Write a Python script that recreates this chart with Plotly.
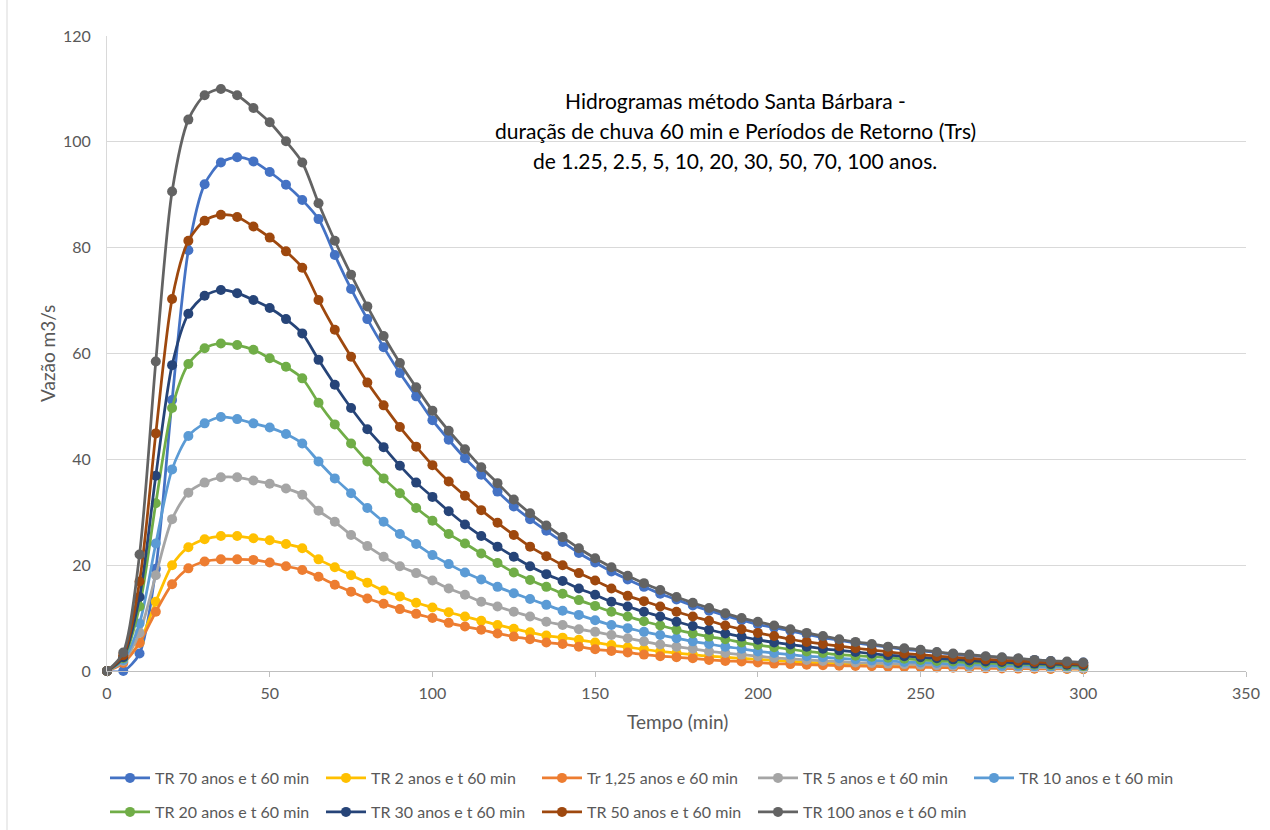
import plotly.graph_objects as go

# Tempo (min), passo de 5 min
tempo = [0, 5, 10, 15, 20, 25, 30, 35, 40, 45, 50, 55, 60, 65, 70, 75, 80, 85, 90, 95,
         100, 105, 110, 115, 120, 125, 130, 135, 140, 145, 150, 155, 160, 165, 170, 175,
         180, 185, 190, 195, 200, 205, 210, 215, 220, 225, 230, 235, 240, 245, 250, 255,
         260, 265, 270, 275, 280, 285, 290, 295, 300]

# Vazões (m3/s) por período de retorno, chuva de 60 min
q_tr70 = [0, 0, 3.3, 19.3, 51.2, 79.5, 92.0, 96.1, 97.1, 96.3, 94.3, 91.9, 89.0, 85.4, 78.6,
          72.2, 66.5, 61.2, 56.3, 51.9, 47.4, 43.7, 40.2, 37.1, 33.9, 31.1, 28.7, 26.5, 24.4,
          22.3, 20.5, 18.8, 17.3, 15.9, 14.6, 13.5, 12.4, 11.4, 10.5, 9.6, 8.8, 8.2, 7.6, 6.9,
          6.3, 5.8, 5.3, 4.9, 4.5, 4.1, 3.8, 3.5, 3.2, 2.9, 2.7, 2.5, 2.3, 2.1, 1.9, 1.7, 1.6]
q_tr2 = [0, 1.7, 5.4, 13.1, 20.0, 23.4, 24.9, 25.5, 25.5, 25.1, 24.7, 24.0, 23.2, 21.1, 19.6,
         18.1, 16.7, 15.2, 14.1, 12.9, 12.0, 11.1, 10.3, 9.5, 8.7, 8.0, 7.3, 6.7, 6.3, 5.9,
         5.4, 4.9, 4.5, 4.1, 3.7, 3.4, 3.1, 2.8, 2.6, 2.4, 2.2, 2.0, 1.8, 1.65, 1.5, 1.4, 1.3,
         1.2, 1.1, 1.0, 0.9, 0.85, 0.8, 0.7, 0.65, 0.6, 0.55, 0.5, 0.45, 0.42, 0.4]
q_tr125 = [0, 1.5, 5.3, 11.2, 16.4, 19.4, 20.7, 21.1, 21.1, 21.0, 20.5, 19.8, 19.1, 17.8, 16.3,
           15.0, 13.7, 12.7, 11.7, 10.8, 10.0, 9.1, 8.4, 7.8, 7.1, 6.5, 6.0, 5.4, 5.1, 4.6,
           4.1, 3.8, 3.5, 3.1, 2.8, 2.6, 2.4, 2.1, 1.9, 1.8, 1.6, 1.4, 1.3, 1.2, 1.1, 1.0, 0.95,
           0.9, 0.8, 0.75, 0.7, 0.65, 0.6, 0.55, 0.5, 0.48, 0.45, 0.42, 0.4, 0.38, 0.35]
q_tr5 = [0, 1.9, 7.2, 18.1, 28.7, 33.7, 35.6, 36.6, 36.6, 36.0, 35.4, 34.5, 33.3, 30.3, 28.2,
         25.7, 23.6, 21.6, 19.8, 18.5, 17.1, 15.6, 14.4, 13.1, 12.2, 11.2, 10.3, 9.3, 8.7, 7.9,
         7.4, 6.8, 6.2, 5.6, 5.0, 4.6, 4.2, 3.7, 3.4, 3.1, 2.8, 2.5, 2.3, 2.1, 1.9, 1.8, 1.6,
         1.5, 1.4, 1.3, 1.2, 1.1, 1.0, 0.9, 0.85, 0.8, 0.7, 0.65, 0.6, 0.55, 0.5]
q_tr10 = [0, 2.1, 9.0, 24.1, 38.1, 44.4, 46.8, 48.0, 47.6, 46.8, 46.0, 44.8, 43.0, 39.6, 36.4,
          33.6, 30.8, 28.2, 25.9, 24.0, 21.9, 20.2, 18.6, 17.3, 15.9, 14.7, 13.6, 12.5, 11.4,
          10.6, 9.6, 8.7, 8.1, 7.4, 6.8, 6.2, 5.6, 5.1, 4.6, 4.2, 3.7, 3.4, 3.1, 2.8, 2.6, 2.4,
          2.2, 2.0, 1.9, 1.7, 1.6, 1.5, 1.3, 1.2, 1.1, 1.0, 1.0, 0.9, 0.8, 0.7, 0.7]
q_tr20 = [0, 2.4, 12.2, 31.7, 49.7, 58.0, 61.0, 61.9, 61.6, 60.7, 59.1, 57.5, 55.3, 50.7, 46.6,
          43.0, 39.6, 36.4, 33.6, 30.8, 28.4, 25.9, 24.1, 22.2, 20.4, 18.6, 17.2, 15.9, 14.6,
          13.4, 12.3, 11.2, 10.3, 9.4, 8.6, 7.8, 7.1, 6.5, 6.0, 5.4, 4.9, 4.5, 4.1, 3.7, 3.4,
          3.1, 2.9, 2.7, 2.5, 2.3, 2.1, 1.9, 1.8, 1.6, 1.5, 1.4, 1.3, 1.2, 1.1, 1.0, 0.9]
q_tr30 = [0, 2.6, 14.0, 36.9, 57.8, 67.5, 70.9, 72.0, 71.4, 70.1, 68.6, 66.5, 63.8, 58.8, 54.1,
          49.7, 45.7, 42.3, 38.8, 35.6, 32.9, 30.2, 27.7, 25.5, 23.5, 21.6, 19.8, 18.3, 17.0,
          15.6, 14.4, 13.1, 12.2, 11.2, 10.3, 9.3, 8.5, 7.8, 7.1, 6.5, 5.9, 5.4, 5.0, 4.6, 4.2,
          3.9, 3.6, 3.3, 3.0, 2.8, 2.6, 2.4, 2.2, 2.0, 1.8, 1.7, 1.5, 1.4, 1.3, 1.2, 1.1]
q_tr50 = [0, 3.0, 16.9, 44.9, 70.3, 81.3, 85.1, 86.2, 85.8, 84.0, 81.9, 79.3, 76.2, 70.1, 64.5,
          59.4, 54.5, 50.2, 46.1, 42.4, 38.9, 35.8, 33.1, 30.4, 28.0, 25.7, 23.5, 21.7, 20.0,
          18.5, 17.1, 15.6, 14.2, 13.2, 12.2, 11.2, 10.3, 9.5, 8.6, 7.9, 7.2, 6.6, 6.0, 5.5,
          5.1, 4.7, 4.3, 4.0, 3.6, 3.3, 3.1, 2.8, 2.6, 2.4, 2.2, 2.0, 1.9, 1.7, 1.6, 1.4, 1.3]
q_tr100 = [0, 3.5, 22.0, 58.5, 90.6, 104.2, 108.8, 110.0, 108.8, 106.4, 103.7, 100.1, 96.1,
           88.4, 81.3, 74.9, 68.9, 63.3, 58.2, 53.6, 49.2, 45.4, 41.9, 38.5, 35.5, 32.4, 29.8,
           27.5, 25.3, 23.2, 21.3, 19.6, 18.0, 16.6, 15.3, 14.0, 12.9, 11.9, 10.9, 10.0, 9.3,
           8.6, 7.9, 7.2, 6.6, 6.0, 5.5, 5.1, 4.6, 4.3, 4.0, 3.6, 3.3, 3.1, 2.8, 2.6, 2.4, 2.1,
           1.9, 1.8, 1.6]

nomes = ["TR 70 anos e t 60 min", "TR 2 anos e t 60 min", "Tr 1,25 anos e 60 min",
         "TR 5 anos e t 60 min", "TR 10 anos e t 60 min", "TR 20 anos e t 60 min",
         "TR 30 anos e t 60 min", "TR 50 anos e t 60 min", "TR 100 anos e t 60 min"]
series = [q_tr70, q_tr2, q_tr125, q_tr5, q_tr10, q_tr20, q_tr30, q_tr50, q_tr100]
cores = ["#4472C4", "#FFC000", "#ED7D31", "#A5A5A5", "#5B9BD5",
         "#70AD47", "#264478", "#9E480E", "#636363"]

FONTE = "Lato, 'Liberation Sans', sans-serif"
CINZA = "#595959"

W, H = 1270, 830
L, R, T, B = 107, 24, 36, 159
pw, ph = W - L - R, H - T - B


def px_x(x):
    return (x - L) / pw


def px_y(y):
    return (H - B - y) / ph


fig = go.Figure()

# posições das entradas da legenda (duas linhas, colunas regulares), em pixels
col_x = [110, 326, 542, 758, 974]
lin_y = [778, 812]

for i, (nome, q, cor) in enumerate(zip(nomes, series, cores)):
    leg = "legend" if i == 0 else f"legend{i + 1}"
    fig.add_trace(go.Scatter(
        x=tempo, y=q, name=nome, mode="lines+markers",
        line=dict(color=cor, width=2.75, shape="spline", smoothing=0.8),
        marker=dict(color=cor, size=10, symbol="circle"),
        cliponaxis=False, legend=leg,
    ))

legend_cfg = {}
for i in range(len(nomes)):
    key = "legend" if i == 0 else f"legend{i + 1}"
    row, col = divmod(i, 5)
    legend_cfg[key] = dict(
        xref="container", yref="container",
        x=(col_x[col] - 5) / W, y=1 - lin_y[row] / H,
        xanchor="left", yanchor="middle",
        orientation="h", bgcolor="rgba(0,0,0,0)",
        font=dict(family=FONTE, size=16, color=CINZA),
        itemwidth=40, borderwidth=0,
    )

fig.update_layout(
    width=W, height=H,
    margin=dict(l=L, r=R, t=T, b=B, pad=0, autoexpand=False),
    paper_bgcolor="white", plot_bgcolor="white",
    font=dict(family=FONTE, color=CINZA),
    showlegend=True,
    xaxis=dict(
        range=[0, 350], tickvals=[0, 50, 100, 150, 200, 250, 300, 350],
        showgrid=False, zeroline=False,
        showline=True, linecolor="#BFBFBF", linewidth=1,
        ticks="outside", ticklen=5, tickcolor="#BFBFBF",
        tickfont=dict(family=FONTE, size=16, color=CINZA),
        ticklabelstandoff=3, automargin=False,
    ),
    yaxis=dict(
        range=[0, 120], tickvals=[0, 20, 40, 60, 80, 100, 120],
        showgrid=True, gridcolor="#D9D9D9", gridwidth=1, zeroline=False,
        showline=True, linecolor="#D9D9D9", linewidth=1,
        ticks="", tickfont=dict(family=FONTE, size=16, color=CINZA),
        ticklabelstandoff=12, automargin=False,
    ),
    **legend_cfg,
)

# título em três linhas
titulo = ["Hidrogramas método Santa Bárbara -",
          "duraçãs de chuva 60 min e Períodos de Retorno (Trs)",
          "de 1.25, 2.5, 5, 10, 20, 30, 50, 70, 100 anos."]
for linha, ypx in zip(titulo, [100, 130, 160]):
    fig.add_annotation(
        x=px_x(735), y=px_y(ypx), xref="paper", yref="paper",
        text=linha, showarrow=False, xanchor="center", yanchor="middle",
        font=dict(family=FONTE, size=21, color="black"),
    )

# títulos dos eixos
fig.add_annotation(
    x=px_x(677), y=px_y(721), xref="paper", yref="paper",
    text="Tempo (min)", showarrow=False, xanchor="center", yanchor="middle",
    font=dict(family=FONTE, size=19, color=CINZA),
)
fig.add_annotation(
    x=px_x(47), y=px_y(354), xref="paper", yref="paper",
    text="Vazão m3/s", showarrow=False, textangle=-90,
    xanchor="center", yanchor="middle",
    font=dict(family=FONTE, size=19, color=CINZA),
)

# contorno da área do gráfico
fig.add_shape(
    type="line", xref="paper", yref="paper",
    x0=px_x(7), x1=px_x(7), y0=px_y(0), y1=px_y(H),
    line=dict(color="#D9D9D9", width=1),
)

fig.write_html("out.html")
